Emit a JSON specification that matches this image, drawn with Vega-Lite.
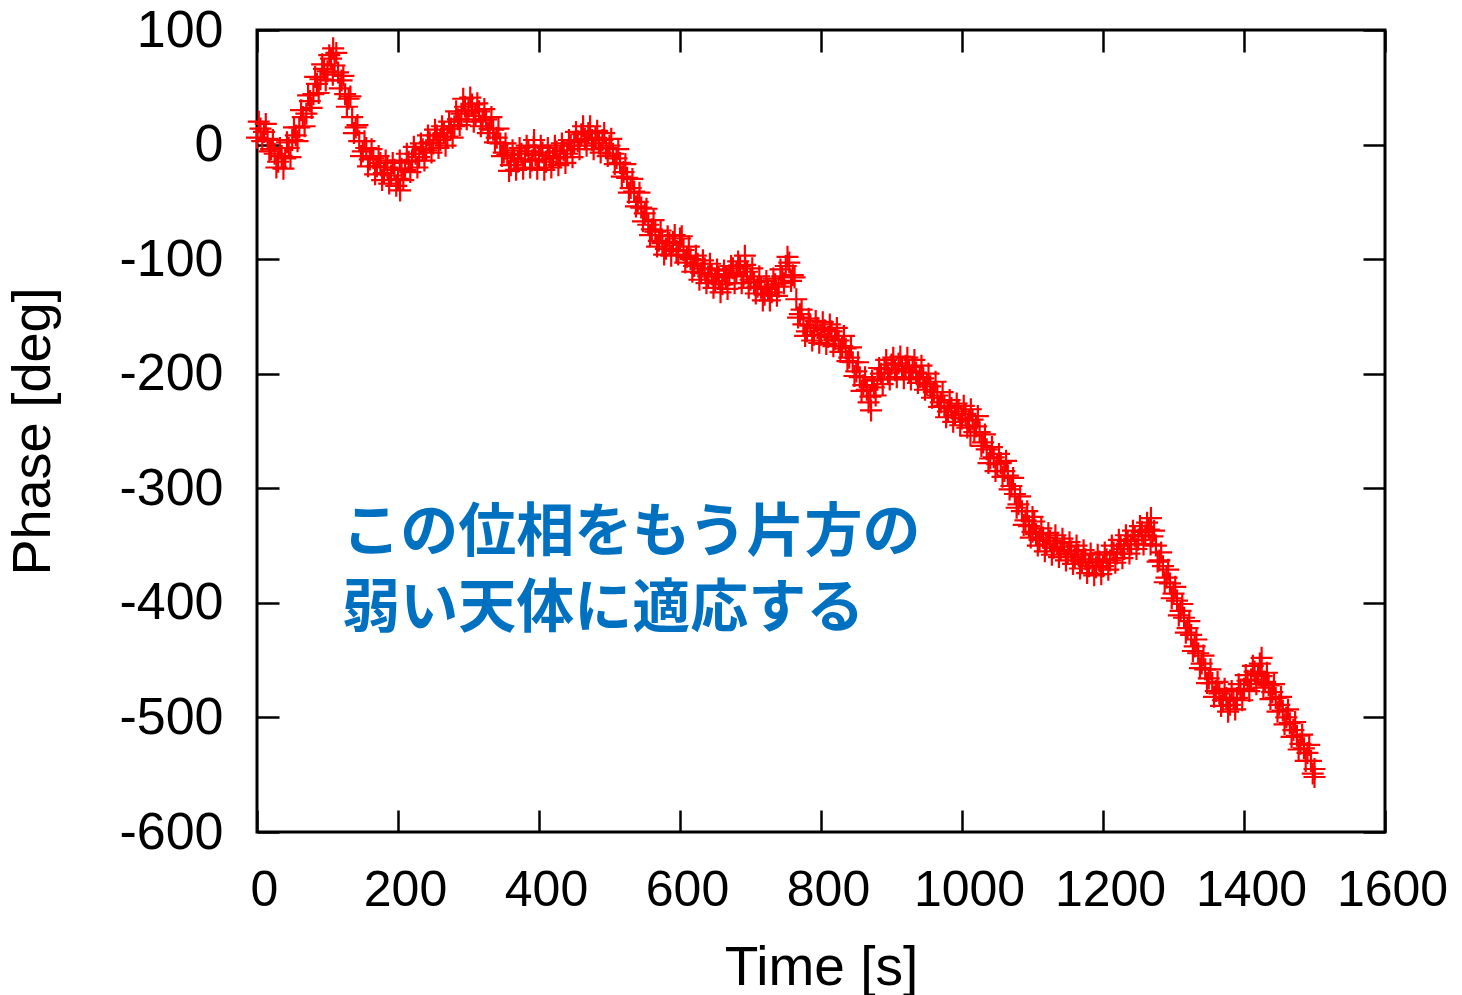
{
  "$schema": "https://vega.github.io/schema/vega-lite/v6.json",
  "width": 1128,
  "height": 802,
  "autosize": "none",
  "padding": {"left": 257, "top": 30, "right": 77, "bottom": 163},
  "background": "white",
  "config": {
    "font": "Liberation Sans",
    "view": {"stroke": "black", "strokeWidth": 3},
    "axis": {
      "grid": false,
      "domain": false,
      "tickColor": "black",
      "tickWidth": 2.5,
      "tickSize": -22,
      "labelColor": "black",
      "labelFont": "Liberation Sans",
      "labelFlush": false,
      "labelOverlap": false,
      "labelBound": false,
      "labelExpr": "'' + datum.value",
      "titleColor": "black",
      "titleFont": "Liberation Sans",
      "titleFontWeight": "normal"
    }
  },
  "layer": [
    {
      "data": {
        "values": [
          {"t":0,"p":6},{"t":5,"p":14},{"t":10,"p":11},{"t":15,"p":5},{"t":20,"p":-4},{"t":25,"p":-8},{"t":30,"p":-15},{"t":35,"p":-10},{"t":40,"p":-12},{"t":45,"p":-3},
          {"t":50,"p":4},{"t":55,"p":8},{"t":60,"p":15},{"t":65,"p":24},{"t":70,"p":27},{"t":75,"p":38},{"t":80,"p":44},{"t":85,"p":53},{"t":90,"p":57},{"t":95,"p":66},
          {"t":100,"p":64},{"t":105,"p":75},{"t":110,"p":69},{"t":115,"p":63},{"t":120,"p":56},{"t":125,"p":44},{"t":130,"p":40},{"t":135,"p":24},{"t":140,"p":15},{"t":145,"p":3},
          {"t":150,"p":-6},{"t":155,"p":-3},{"t":160,"p":-13},{"t":165,"p":-12},{"t":170,"p":-19},{"t":175,"p":-16},{"t":180,"p":-25},{"t":185,"p":-20},{"t":190,"p":-27},{"t":195,"p":-22},
          {"t":200,"p":-30},{"t":205,"p":-21},{"t":210,"p":-22},{"t":215,"p":-15},{"t":220,"p":-14},{"t":225,"p":-8},{"t":230,"p":-11},{"t":235,"p":-4},{"t":240,"p":-5},{"t":245,"p":2},
          {"t":250,"p":1},{"t":255,"p":8},{"t":260,"p":4},{"t":265,"p":10},{"t":270,"p":7},{"t":275,"p":14},{"t":280,"p":16},{"t":285,"p":22},{"t":290,"p":27},{"t":295,"p":33},
          {"t":300,"p":30},{"t":305,"p":35},{"t":310,"p":25},{"t":315,"p":29},{"t":320,"p":21},{"t":325,"p":22},{"t":330,"p":14},{"t":335,"p":13},{"t":340,"p":6},{"t":345,"p":1},
          {"t":350,"p":-7},{"t":355,"p":-9},{"t":360,"p":-18},{"t":365,"p":-12},{"t":370,"p":-15},{"t":375,"p":-8},{"t":380,"p":-13},{"t":385,"p":-6},{"t":390,"p":-14},{"t":395,"p":-9},
          {"t":400,"p":-13},{"t":405,"p":-7},{"t":410,"p":-15},{"t":415,"p":-10},{"t":420,"p":-12},{"t":425,"p":-6},{"t":430,"p":-11},{"t":435,"p":-5},{"t":440,"p":-8},{"t":445,"p":-1},
          {"t":450,"p":2},{"t":455,"p":3},{"t":460,"p":9},{"t":465,"p":5},{"t":470,"p":10},{"t":475,"p":4},{"t":480,"p":6},{"t":485,"p":1},{"t":490,"p":4},{"t":495,"p":-3},
          {"t":500,"p":-1},{"t":505,"p":-8},{"t":510,"p":-12},{"t":515,"p":-16},{"t":520,"p":-24},{"t":525,"p":-29},{"t":530,"p":-38},{"t":535,"p":-41},{"t":540,"p":-50},{"t":545,"p":-55},
          {"t":550,"p":-60},{"t":555,"p":-70},{"t":560,"p":-74},{"t":565,"p":-76},{"t":570,"p":-84},{"t":575,"p":-86},{"t":580,"p":-91},{"t":585,"p":-86},{"t":590,"p":-85},{"t":595,"p":-93},
          {"t":600,"p":-82},{"t":605,"p":-92},{"t":610,"p":-98},{"t":615,"p":-100},{"t":620,"p":-106},{"t":625,"p":-104},{"t":630,"p":-112},{"t":635,"p":-108},{"t":640,"p":-115},{"t":645,"p":-113},
          {"t":650,"p":-119},{"t":655,"p":-115},{"t":660,"p":-122},{"t":665,"p":-116},{"t":670,"p":-114},{"t":675,"p":-108},{"t":680,"p":-112},{"t":685,"p":-106},{"t":690,"p":-115},{"t":695,"p":-111},
          {"t":700,"p":-118},{"t":705,"p":-120},{"t":710,"p":-124},{"t":715,"p":-125},{"t":720,"p":-131},{"t":725,"p":-126},{"t":730,"p":-129},{"t":735,"p":-122},{"t":740,"p":-124},{"t":745,"p":-115},
          {"t":750,"p":-106},{"t":755,"p":-103},{"t":760,"p":-114},{"t":765,"p":-135},{"t":770,"p":-148},{"t":775,"p":-157},{"t":780,"p":-163},{"t":785,"p":-158},{"t":790,"p":-166},{"t":795,"p":-160},
          {"t":800,"p":-166},{"t":805,"p":-162},{"t":810,"p":-168},{"t":815,"p":-163},{"t":820,"p":-170},{"t":825,"p":-171},{"t":830,"p":-176},{"t":835,"p":-178},{"t":840,"p":-186},{"t":845,"p":-190},
          {"t":850,"p":-198},{"t":855,"p":-203},{"t":860,"p":-210},{"t":865,"p":-214},{"t":870,"p":-220},{"t":875,"p":-212},{"t":880,"p":-205},{"t":885,"p":-200},{"t":890,"p":-196},{"t":895,"p":-199},
          {"t":900,"p":-192},{"t":905,"p":-197},{"t":910,"p":-191},{"t":915,"p":-196},{"t":920,"p":-193},{"t":925,"p":-198},{"t":930,"p":-194},{"t":935,"p":-199},{"t":940,"p":-203},{"t":945,"p":-204},
          {"t":950,"p":-209},{"t":955,"p":-211},{"t":960,"p":-216},{"t":965,"p":-219},{"t":970,"p":-225},{"t":975,"p":-228},{"t":980,"p":-233},{"t":985,"p":-230},{"t":990,"p":-236},{"t":995,"p":-233},
          {"t":1000,"p":-239},{"t":1005,"p":-235},{"t":1010,"p":-241},{"t":1015,"p":-240},{"t":1020,"p":-246},{"t":1025,"p":-251},{"t":1030,"p":-260},{"t":1035,"p":-266},{"t":1040,"p":-274},{"t":1045,"p":-273},
          {"t":1050,"p":-279},{"t":1055,"p":-278},{"t":1060,"p":-285},{"t":1065,"p":-289},{"t":1070,"p":-298},{"t":1075,"p":-305},{"t":1080,"p":-314},{"t":1085,"p":-320},{"t":1090,"p":-328},{"t":1095,"p":-333},
          {"t":1100,"p":-338},{"t":1105,"p":-340},{"t":1110,"p":-345},{"t":1115,"p":-343},{"t":1120,"p":-349},{"t":1125,"p":-346},{"t":1130,"p":-352},{"t":1135,"p":-348},{"t":1140,"p":-354},{"t":1145,"p":-351},
          {"t":1150,"p":-357},{"t":1155,"p":-355},{"t":1160,"p":-360},{"t":1165,"p":-358},{"t":1170,"p":-364},{"t":1175,"p":-362},{"t":1180,"p":-368},{"t":1185,"p":-365},{"t":1190,"p":-369},{"t":1195,"p":-364},
          {"t":1200,"p":-368},{"t":1205,"p":-362},{"t":1210,"p":-363},{"t":1215,"p":-356},{"t":1220,"p":-357},{"t":1225,"p":-350},{"t":1230,"p":-353},{"t":1235,"p":-346},{"t":1240,"p":-349},{"t":1245,"p":-342},
          {"t":1250,"p":-345},{"t":1255,"p":-338},{"t":1260,"p":-341},{"t":1265,"p":-336},{"t":1270,"p":-342},{"t":1275,"p":-350},{"t":1280,"p":-363},{"t":1285,"p":-368},{"t":1290,"p":-378},{"t":1295,"p":-383},
          {"t":1300,"p":-392},{"t":1305,"p":-398},{"t":1310,"p":-407},{"t":1315,"p":-413},{"t":1320,"p":-422},{"t":1325,"p":-428},{"t":1330,"p":-438},{"t":1335,"p":-444},{"t":1340,"p":-453},{"t":1345,"p":-458},
          {"t":1350,"p":-466},{"t":1355,"p":-470},{"t":1360,"p":-477},{"t":1365,"p":-479},{"t":1370,"p":-485},{"t":1375,"p":-483},{"t":1380,"p":-489},{"t":1385,"p":-484},{"t":1390,"p":-483},{"t":1395,"p":-476},
          {"t":1400,"p":-475},{"t":1405,"p":-468},{"t":1410,"p":-467},{"t":1415,"p":-460},{"t":1420,"p":-462},{"t":1425,"p":-464},{"t":1430,"p":-469},{"t":1435,"p":-472},{"t":1440,"p":-478},{"t":1445,"p":-483},
          {"t":1450,"p":-489},{"t":1455,"p":-494},{"t":1460,"p":-500},{"t":1465,"p":-505},{"t":1470,"p":-511},{"t":1475,"p":-516},{"t":1480,"p":-523},{"t":1485,"p":-527},{"t":1490,"p":-531},{"t":1495,"p":-538},
          {"t":1500,"p":-545},
          {"t":2.5,"p":20},{"t":7.5,"p":3},{"t":12.5,"p":18},{"t":17.5,"p":-6},{"t":22.5,"p":4},{"t":27.5,"p":-20},{"t":32.5,"p":-3},{"t":37.5,"p":-21},{"t":42.5,"p":2},{"t":47.5,"p":-11},
          {"t":52.5,"p":15},{"t":57.5,"p":3},{"t":62.5,"p":30},{"t":67.5,"p":16},{"t":72.5,"p":43},{"t":77.5,"p":32},{"t":82.5,"p":59},{"t":87.5,"p":45},{"t":92.5,"p":70},{"t":97.5,"p":56},
          {"t":102.5,"p":78},{"t":107.5,"p":61},{"t":112.5,"p":80},{"t":117.5,"p":49},{"t":122.5,"p":60},{"t":127.5,"p":33},{"t":132.5,"p":42},{"t":137.5,"p":10},{"t":142.5,"p":17},{"t":147.5,"p":-10},
          {"t":152.5,"p":3},{"t":157.5,"p":-19},{"t":162.5,"p":-4},{"t":167.5,"p":-26},{"t":172.5,"p":-10},{"t":177.5,"p":-31},{"t":182.5,"p":-14},{"t":187.5,"p":-34},{"t":192.5,"p":-16},{"t":197.5,"p":-36},
          {"t":202.5,"p":-14},{"t":207.5,"p":-31},{"t":212.5,"p":-8},{"t":217.5,"p":-24},{"t":222.5,"p":-2},{"t":227.5,"p":-20},{"t":232.5,"p":1},{"t":237.5,"p":-14},{"t":242.5,"p":8},{"t":247.5,"p":-7},
          {"t":252.5,"p":13},{"t":257.5,"p":-3},{"t":262.5,"p":16},{"t":267.5,"p":-1},{"t":272.5,"p":20},{"t":277.5,"p":6},{"t":282.5,"p":29},{"t":287.5,"p":17},{"t":292.5,"p":40},{"t":297.5,"p":22},
          {"t":302.5,"p":41},{"t":307.5,"p":20},{"t":312.5,"p":36},{"t":317.5,"p":16},{"t":322.5,"p":31},{"t":327.5,"p":10},{"t":332.5,"p":24},{"t":337.5,"p":2},{"t":342.5,"p":14},{"t":347.5,"p":-10},
          {"t":352.5,"p":1},{"t":357.5,"p":-23},{"t":362.5,"p":-5},{"t":367.5,"p":-22},{"t":372.5,"p":-3},{"t":377.5,"p":-21},{"t":382.5,"p":-1},{"t":387.5,"p":-20},{"t":392.5,"p":-2},{"t":397.5,"p":-21},
          {"t":402.5,"p":-1},{"t":407.5,"p":-22},{"t":412.5,"p":-3},{"t":417.5,"p":-20},{"t":422.5,"p":-1},{"t":427.5,"p":-18},{"t":432.5,"p":1},{"t":437.5,"p":-16},{"t":442.5,"p":4},{"t":447.5,"p":-11},
          {"t":452.5,"p":11},{"t":457.5,"p":-4},{"t":462.5,"p":16},{"t":467.5,"p":-1},{"t":472.5,"p":16},{"t":477.5,"p":-4},{"t":482.5,"p":12},{"t":487.5,"p":-7},{"t":492.5,"p":10},{"t":497.5,"p":-10},
          {"t":502.5,"p":5},{"t":507.5,"p":-17},{"t":512.5,"p":-4},{"t":517.5,"p":-28},{"t":522.5,"p":-17},{"t":527.5,"p":-42},{"t":532.5,"p":-30},{"t":537.5,"p":-54},{"t":542.5,"p":-42},{"t":547.5,"p":-67},
          {"t":552.5,"p":-56},{"t":557.5,"p":-79},{"t":562.5,"p":-66},{"t":567.5,"p":-89},{"t":572.5,"p":-75},{"t":577.5,"p":-96},{"t":582.5,"p":-80},{"t":587.5,"p":-97},{"t":592.5,"p":-79},{"t":597.5,"p":-96},
          {"t":602.5,"p":-80},{"t":607.5,"p":-103},{"t":612.5,"p":-89},{"t":617.5,"p":-111},{"t":622.5,"p":-97},{"t":627.5,"p":-118},{"t":632.5,"p":-101},{"t":637.5,"p":-121},{"t":642.5,"p":-104},{"t":647.5,"p":-125},
          {"t":652.5,"p":-109},{"t":657.5,"p":-129},{"t":662.5,"p":-110},{"t":667.5,"p":-126},{"t":672.5,"p":-106},{"t":677.5,"p":-121},{"t":682.5,"p":-102},{"t":687.5,"p":-121},{"t":692.5,"p":-105},{"t":697.5,"p":-125},
          {"t":702.5,"p":-108},{"t":707.5,"p":-130},{"t":712.5,"p":-115},{"t":717.5,"p":-136},{"t":722.5,"p":-119},{"t":727.5,"p":-136},{"t":732.5,"p":-117},{"t":737.5,"p":-132},{"t":742.5,"p":-109},{"t":747.5,"p":-121},
          {"t":752.5,"p":-98},{"t":757.5,"p":-119},{"t":762.5,"p":-116},{"t":767.5,"p":-151},{"t":772.5,"p":-144},{"t":777.5,"p":-167},{"t":782.5,"p":-152},{"t":787.5,"p":-171},{"t":792.5,"p":-154},{"t":797.5,"p":-173},
          {"t":802.5,"p":-155},{"t":807.5,"p":-174},{"t":812.5,"p":-157},{"t":817.5,"p":-176},{"t":822.5,"p":-160},{"t":827.5,"p":-181},{"t":832.5,"p":-167},{"t":837.5,"p":-189},{"t":842.5,"p":-177},{"t":847.5,"p":-202},
          {"t":852.5,"p":-190},{"t":857.5,"p":-215},{"t":862.5,"p":-203},{"t":867.5,"p":-225},{"t":872.5,"p":-206},{"t":877.5,"p":-219},{"t":882.5,"p":-195},{"t":887.5,"p":-209},{"t":892.5,"p":-188},{"t":897.5,"p":-205},
          {"t":902.5,"p":-186},{"t":907.5,"p":-203},{"t":912.5,"p":-185},{"t":917.5,"p":-204},{"t":922.5,"p":-186},{"t":927.5,"p":-205},{"t":932.5,"p":-188},{"t":937.5,"p":-208},{"t":942.5,"p":-193},{"t":947.5,"p":-214},
          {"t":952.5,"p":-200},{"t":957.5,"p":-221},{"t":962.5,"p":-207},{"t":967.5,"p":-229},{"t":972.5,"p":-216},{"t":977.5,"p":-238},{"t":982.5,"p":-223},{"t":987.5,"p":-242},{"t":992.5,"p":-226},{"t":997.5,"p":-245},
          {"t":1002.5,"p":-228},{"t":1007.5,"p":-247},{"t":1012.5,"p":-231},{"t":1017.5,"p":-251},{"t":1022.5,"p":-237},{"t":1027.5,"p":-263},{"t":1032.5,"p":-253},{"t":1037.5,"p":-278},{"t":1042.5,"p":-264},{"t":1047.5,"p":-285},
          {"t":1052.5,"p":-270},{"t":1057.5,"p":-290},{"t":1062.5,"p":-276},{"t":1067.5,"p":-301},{"t":1072.5,"p":-291},{"t":1077.5,"p":-317},{"t":1082.5,"p":-307},{"t":1087.5,"p":-332},{"t":1092.5,"p":-320},{"t":1097.5,"p":-343},
          {"t":1102.5,"p":-329},{"t":1107.5,"p":-350},{"t":1112.5,"p":-335},{"t":1117.5,"p":-355},{"t":1122.5,"p":-339},{"t":1127.5,"p":-358},{"t":1132.5,"p":-341},{"t":1137.5,"p":-360},{"t":1142.5,"p":-344},{"t":1147.5,"p":-363},
          {"t":1152.5,"p":-347},{"t":1157.5,"p":-366},{"t":1162.5,"p":-350},{"t":1167.5,"p":-370},{"t":1172.5,"p":-354},{"t":1177.5,"p":-374},{"t":1182.5,"p":-357},{"t":1187.5,"p":-376},{"t":1192.5,"p":-358},{"t":1197.5,"p":-375},
          {"t":1202.5,"p":-356},{"t":1207.5,"p":-371},{"t":1212.5,"p":-350},{"t":1217.5,"p":-365},{"t":1222.5,"p":-345},{"t":1227.5,"p":-361},{"t":1232.5,"p":-341},{"t":1237.5,"p":-357},{"t":1242.5,"p":-337},{"t":1247.5,"p":-353},
          {"t":1252.5,"p":-333},{"t":1257.5,"p":-349},{"t":1262.5,"p":-330},{"t":1267.5,"p":-349},{"t":1272.5,"p":-337},{"t":1277.5,"p":-364},{"t":1282.5,"p":-356},{"t":1287.5,"p":-382},{"t":1292.5,"p":-371},{"t":1297.5,"p":-396},
          {"t":1302.5,"p":-386},{"t":1307.5,"p":-411},{"t":1312.5,"p":-401},{"t":1317.5,"p":-426},{"t":1322.5,"p":-416},{"t":1327.5,"p":-442},{"t":1332.5,"p":-432},{"t":1337.5,"p":-457},{"t":1342.5,"p":-446},{"t":1347.5,"p":-470},
          {"t":1352.5,"p":-458},{"t":1357.5,"p":-482},{"t":1362.5,"p":-469},{"t":1367.5,"p":-490},{"t":1372.5,"p":-475},{"t":1377.5,"p":-495},{"t":1382.5,"p":-477},{"t":1387.5,"p":-493},{"t":1392.5,"p":-471},{"t":1397.5,"p":-485},
          {"t":1402.5,"p":-463},{"t":1407.5,"p":-477},{"t":1412.5,"p":-455},{"t":1417.5,"p":-471},{"t":1422.5,"p":-453},{"t":1427.5,"p":-474},{"t":1432.5,"p":-461},{"t":1437.5,"p":-484},{"t":1442.5,"p":-471},{"t":1447.5,"p":-495},
          {"t":1452.5,"p":-482},{"t":1457.5,"p":-506},{"t":1462.5,"p":-493},{"t":1467.5,"p":-517},{"t":1472.5,"p":-504},{"t":1477.5,"p":-528},{"t":1482.5,"p":-515},{"t":1487.5,"p":-538},{"t":1492.5,"p":-524},{"t":1497.5,"p":-549},
          {"t":393,"p":4},{"t":692,"p":-97},{"t":871,"p":-232},{"t":1012,"p":-254},{"t":1268,"p":-326},{"t":1425,"p":-448},{"t":1500,"p":-552},{"t":203,"p":-40},{"t":1100,"p":-325},{"t":108,"p":84}
        ]
      },
      "mark": {
        "type": "point",
        "shape": "M-1,0H1M0,-1V1",
        "size": 484,
        "strokeWidth": 2.2,
        "filled": false,
        "opacity": 1,
        "color": "#ff0000"
      },
      "encoding": {
        "x": {
          "field": "t",
          "type": "quantitative",
          "scale": {"domain": [0, 1600], "nice": false, "zero": false},
          "axis": {
            "orient": "bottom",
            "values": [0, 200, 400, 600, 800, 1000, 1200, 1400, 1600],
            "labelFontSize": 50,
            "labelPadding": 55,
            "labelOffset": 7,
            "title": "Time [s]",
            "titleFontSize": 55,
            "titlePadding": 26
          }
        },
        "y": {
          "field": "p",
          "type": "quantitative",
          "scale": {"domain": [-600, 100], "nice": false, "zero": false},
          "axis": {
            "orient": "left",
            "values": [-600, -500, -400, -300, -200, -100, 0, 100],
            "labelFontSize": 52,
            "labelPadding": 56,
            "title": "Phase [deg]",
            "titleFontSize": 54,
            "titlePadding": 58
          }
        }
      }
    },
    {
      "data": {
        "values": [
          {"t": 121, "p": -340, "note": "この位相をもう片方の\n弱い天体に適応する"}
        ]
      },
      "mark": {
        "type": "text",
        "align": "left",
        "baseline": "middle",
        "font": "Noto Sans CJK JP",
        "fontWeight": "bold",
        "fontSize": 58,
        "lineBreak": "\n",
        "lineHeight": 76,
        "color": "#0070c0"
      },
      "encoding": {
        "x": {
          "field": "t",
          "type": "quantitative",
          "scale": {"domain": [0, 1600], "nice": false, "zero": false},
          "axis": {
            "orient": "top",
            "values": [0, 200, 400, 600, 800, 1000, 1200, 1400, 1600],
            "labels": false,
            "title": null
          }
        },
        "y": {
          "field": "p",
          "type": "quantitative",
          "scale": {"domain": [-600, 100], "nice": false, "zero": false},
          "axis": {
            "orient": "right",
            "values": [-600, -500, -400, -300, -200, -100, 0, 100],
            "labels": false,
            "title": null
          }
        },
        "text": {"field": "note"}
      }
    }
  ],
  "resolve": {"axis": {"x": "independent", "y": "independent"}}
}
